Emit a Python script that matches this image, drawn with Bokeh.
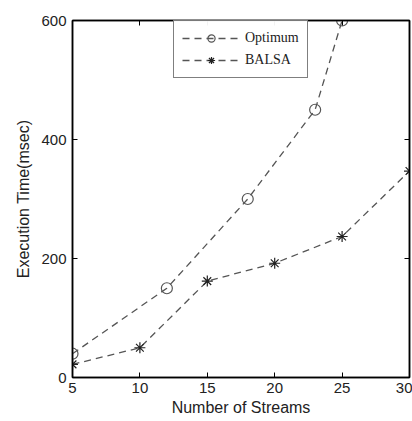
from bokeh.plotting import figure
from bokeh.models import LinearAxis, FixedTicker, Range1d, Legend, LegendItem
from bokeh.embed import file_html
from bokeh.resources import INLINE

opt_x = [5, 12, 18, 23, 25]
opt_y = [40, 150, 300, 450, 600]
balsa_x = [5, 10, 15, 20, 25, 30]
balsa_y = [22, 50, 162, 192, 237, 347]
x_ticks = [5, 10, 15, 20, 25, 30]
y_ticks = [0, 200, 400, 600]

p = figure(width=412, height=421, output_backend="svg", toolbar_location=None,
           x_range=Range1d(5, 30), y_range=Range1d(0, 600),
           min_border_left=72, min_border_right=3, min_border_top=20, min_border_bottom=44)
p.xgrid.visible = False
p.ygrid.visible = False
p.outline_line_color = "black"
p.outline_line_width = 1.5

line_col = "#555555"
r1 = p.line(opt_x, opt_y, line_color=line_col, line_dash="7 5", line_width=1.3)
m1 = p.scatter(opt_x, opt_y, marker="circle", size=11, fill_color=None, line_color=line_col, line_width=1.2)
r2 = p.line(balsa_x, balsa_y, line_color=line_col, line_dash="7 5", line_width=1.3)
m2 = p.scatter(balsa_x, balsa_y, marker="asterisk", size=11, line_color="#222222", line_width=1.2)

for ax in (p.xaxis[0], p.yaxis[0]):
    ax.major_tick_in = 5
    ax.major_tick_out = 0
    ax.minor_tick_line_color = None
    ax.axis_line_width = 1.5
    ax.major_label_text_font = "Liberation Sans"
    ax.major_label_text_font_size = "15px"
    ax.major_label_text_color = "#222222"
    ax.axis_label_text_font = "Liberation Sans"
    ax.axis_label_text_font_size = "16px"
    ax.axis_label_text_font_style = "normal"
    ax.axis_label_text_color = "#222222"

p.xaxis[0].ticker = FixedTicker(ticks=x_ticks)
p.yaxis[0].ticker = FixedTicker(ticks=y_ticks)
p.xaxis[0].axis_label = "Number of Streams"
p.yaxis[0].axis_label = "Execution Time(msec)"
p.xaxis[0].major_label_standoff = 5
p.xaxis[0].axis_label_standoff = 3
p.yaxis[0].major_label_standoff = 6
p.yaxis[0].axis_label_standoff = 6

top = LinearAxis(ticker=FixedTicker(ticks=x_ticks), major_tick_in=5, major_tick_out=0,
                 minor_tick_line_color=None, major_label_text_color=None, axis_line_width=1.5)
right = LinearAxis(ticker=FixedTicker(ticks=y_ticks), major_tick_in=5, major_tick_out=0,
                   minor_tick_line_color=None, major_label_text_color=None, axis_line_width=1.5)
p.add_layout(top, "above")
p.add_layout(right, "right")

legend = Legend(items=[LegendItem(label="Optimum", renderers=[r1, m1]),
                       LegendItem(label="BALSA", renderers=[r2, m2])],
                location=(101, 299), glyph_width=58, glyph_height=18,
                label_text_font="Liberation Serif", label_text_font_size="14px",
                label_standoff=5, padding=8, spacing=4, margin=0,
                border_line_color="black", border_line_width=1.5,
                label_text_color="#222222")
p.add_layout(legend, "center")

open("out.html", "w").write(file_html(p, INLINE))
